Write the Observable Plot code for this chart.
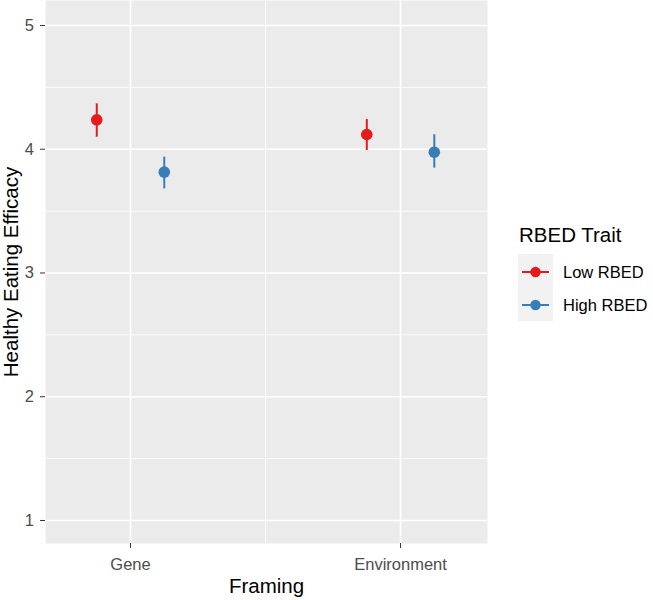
<!DOCTYPE html>
<html><head><meta charset="utf-8">
<script src="https://cdn.jsdelivr.net/npm/d3@7"></script>
<script src="https://cdn.jsdelivr.net/npm/@observablehq/plot@0.6"></script>
<style>
body{margin:0;background:#fff;font-family:"Liberation Sans",Arial,sans-serif}
#wrap{position:relative;width:653px;height:600px}
#legend{position:absolute;left:0;top:0}
</style>
</head><body><div id="wrap"></div>
<script>
// ---- data ----
const framings = ["Gene", "Environment"];
const traits = ["Low RBED", "High RBED"];
const traitColors = ["#E41A1C", "#377EB8"];
const lowMean  = [4.238, 4.119];
const lowLower = [4.097, 3.990];
const lowUpper = [4.367, 4.240];
const highMean  = [3.815, 3.976];
const highLower = [3.680, 3.847];
const highUpper = [3.936, 4.117];
const yTicks = [1, 2, 3, 4, 5];
const xTitle = "Framing";
const yTitle = "Healthy Eating Efficacy";
const legendTitle = "RBED Trait";

const dodge = 0.125;
const series = [
  {trait: traits[0], mean: lowMean, lo: lowLower, hi: lowUpper},
  {trait: traits[1], mean: highMean, lo: highLower, hi: highUpper}
];
const rows = [];
framings.forEach((f, i) => series.forEach((s, j) => rows.push({
  framing: f, trait: s.trait,
  pos: i + 1 + (j === 0 ? -dodge : dodge),
  mean: s.mean[i], lo: s.lo[i], hi: s.hi[i]
})));

const font = "Liberation Sans, Arial, sans-serif";
const plot = Plot.plot({
  width: 653, height: 600,
  marginLeft: 45, marginRight: 166, marginTop: 0, marginBottom: 57,
  style: {fontFamily: font, fontSize: "16.5px", background: "white", overflow: "visible"},
  x: {domain: [0.6852, 2.322], label: null},
  y: {domain: [0.814, 5.202], label: null},
  color: {domain: traits, range: traitColors},
  marks: [
    Plot.frame({fill: "#EBEBEB", stroke: null}),
    Plot.gridY([1.5, 2.5, 3.5, 4.5], {stroke: "white", strokeOpacity: 1, strokeWidth: 0.8}),
    Plot.gridX([1.5], {stroke: "white", strokeOpacity: 1, strokeWidth: 0.8}),
    Plot.gridY(yTicks, {stroke: "white", strokeOpacity: 1, strokeWidth: 1.6}),
    Plot.gridX([1, 2], {stroke: "white", strokeOpacity: 1, strokeWidth: 1.6}),
    Plot.ruleX(rows, {x: "pos", y1: "lo", y2: "hi", stroke: "trait", strokeWidth: 2}),
    Plot.dot(rows, {x: "pos", y: "mean", fill: "trait", r: 5.8}),
    Plot.axisY(yTicks, {tickSize: 5, tickPadding: 6.5, stroke: "#333333", fill: "#4D4D4D", label: null, fontSize: 16.5,
      tickFormat: d => String(d)}),
    Plot.axisX([1, 2], {tickSize: 5, tickPadding: 9.5, stroke: "#333333", fill: "#4D4D4D", label: null, fontSize: 16.5,
      tickFormat: d => framings[d - 1]}),
    Plot.text([xTitle], {frameAnchor: "bottom", dy: 43, lineAnchor: "middle", textAnchor: "middle",
      fontSize: 20.5, fill: "black", text: d => d}),
    Plot.text([yTitle], {frameAnchor: "left", dx: -34, rotate: -90, lineAnchor: "middle", textAnchor: "middle",
      fontSize: 20.5, fill: "black", text: d => d})
  ]
});
const wrap = document.getElementById("wrap");
wrap.appendChild(plot);

// ---- legend ----
const lg = d3.select(wrap).append("svg").attr("id", "legend")
  .attr("width", 653).attr("height", 600)
  .style("pointer-events", "none")
  .style("font-family", font);
lg.append("text").attr("x", 519).attr("y", 242).attr("font-size", 20.5).attr("fill", "black").text(legendTitle);
lg.append("rect").attr("x", 518).attr("y", 254).attr("width", 35).attr("height", 67).attr("fill", "#F2F2F2");
traits.forEach((t, i) => {
  const cy = 272 + i * 33;
  lg.append("line").attr("x1", 522).attr("x2", 549).attr("y1", cy).attr("y2", cy)
    .attr("stroke", traitColors[i]).attr("stroke-width", 2);
  lg.append("circle").attr("cx", 535.5).attr("cy", cy).attr("r", 5.2).attr("fill", traitColors[i]);
  lg.append("text").attr("x", 563).attr("y", cy).attr("dy", "0.36em").attr("font-size", 16.5)
    .attr("fill", "black").text(t);
});
</script>
</body></html>
